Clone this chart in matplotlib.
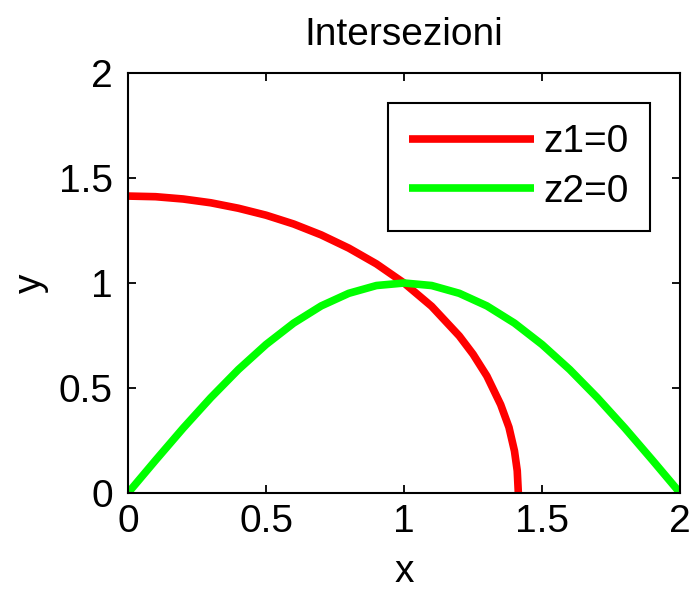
import numpy as np
import matplotlib.pyplot as plt

# ── Data ──────────────────────────────────────────────────────────────────────
# z1 = 0 curve (red)
x_z1 = [0.0, 0.1, 0.2, 0.3, 0.4, 0.5, 0.6, 0.7, 0.8, 0.9, 1.0,
        1.1, 1.2, 1.25, 1.3, 1.35, 1.38, 1.40, 1.41, 1.414]
y_z1 = [1.414, 1.411, 1.400, 1.382, 1.356, 1.323, 1.281, 1.229, 1.166, 1.091, 1.0,
        0.889, 0.748, 0.661, 0.557, 0.421, 0.313, 0.200, 0.106, 0.0]

# z2 = 0 curve (green)
x_z2 = [0.0, 0.1, 0.2, 0.3, 0.4, 0.5, 0.6, 0.7, 0.8, 0.9, 1.0,
        1.1, 1.2, 1.3, 1.4, 1.5, 1.6, 1.7, 1.8, 1.9, 2.0]
y_z2 = [0.0, 0.156, 0.309, 0.454, 0.588, 0.707, 0.809, 0.891, 0.951, 0.988, 1.0,
        0.988, 0.951, 0.891, 0.809, 0.707, 0.588, 0.454, 0.309, 0.156, 0.0]

x_ticks = [0, 0.5, 1, 1.5, 2]
y_ticks = [0, 0.5, 1, 1.5, 2]
tick_labels = ['0', '0.5', '1', '1.5', '2']

# ── Figure ────────────────────────────────────────────────────────────────────
FS = 28
plt.rcParams['font.family'] = ['Liberation Sans', 'DejaVu Sans']
fig = plt.figure(figsize=(6.94, 5.93), dpi=100)
ax = fig.add_axes([0.1844, 0.1686, 0.7956, 0.7083])

ax.plot(x_z1, y_z1, color='#ff0000', linewidth=5.5, label='z1=0',
        solid_capstyle='butt')
ax.plot(x_z2, y_z2, color='#00ff00', linewidth=5.5, label='z2=0',
        solid_capstyle='butt')

ax.set_xlim(0, 2)
ax.set_ylim(0, 2)
ax.set_xticks(x_ticks)
ax.set_yticks(y_ticks)
ax.set_xticklabels(tick_labels)
ax.set_yticklabels(tick_labels)
ax.tick_params(direction='in', length=6, width=1.3, labelsize=FS,
               top=True, right=True)
ax.tick_params(axis='x', pad=8)
ax.tick_params(axis='y', pad=11)
for sp in ax.spines.values():
    sp.set_linewidth(1.5)

ax.set_title('Intersezioni', fontsize=FS, pad=20)
ax.set_xlabel('x', fontsize=FS, labelpad=10)
ax.set_ylabel('y', fontsize=FS, labelpad=7)

leg = ax.legend(loc='upper right', bbox_to_anchor=(0.9457, 0.9286),
                borderaxespad=0, fontsize=FS, framealpha=1,
                frameon=True, fancybox=False, edgecolor='black',
                handlelength=3.2, handletextpad=0.25, borderpad=0.55,
                labelspacing=0.35)
leg.get_frame().set_linewidth(1.5)

plt.savefig('out.png', dpi=100)
